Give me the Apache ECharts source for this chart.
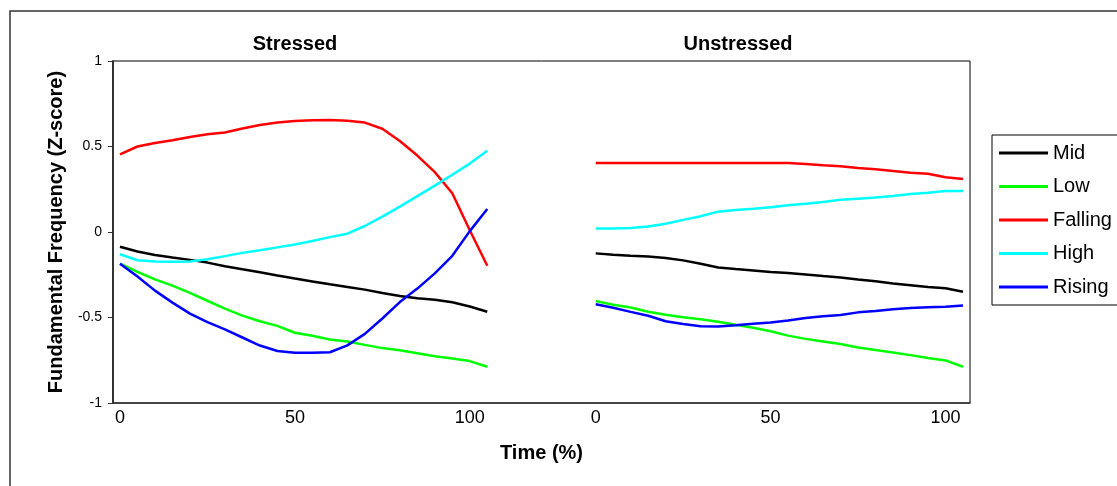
<!DOCTYPE html>
<html>
<head>
<meta charset="utf-8">
<title>Fundamental Frequency (Z-score)</title>
<script src="https://cdn.jsdelivr.net/npm/echarts@6/dist/echarts.min.js"></script>
<style>
  html, body { margin: 0; padding: 0; background: #ffffff; }
  #chart { width: 1117px; height: 486px; }
</style>
</head>
<body>
<div id="chart"></div>
<script>
// Normalised time points (%) shared by both conditions
const timePct = [0, 5, 10, 15, 20, 25, 30, 35, 40, 45, 50, 55, 60, 65, 70, 75, 80, 85, 90, 95, 100, 105];

// The unstressed panel sits to the right of the stressed one on the same x scale
const unstressedShift = 136;

const seriesNames = ['Mid', 'Low', 'Falling', 'High', 'Rising'];
const seriesColors = ['#000000', '#00ff00', '#ff0000', '#00ffff', '#0000ff'];

// Stressed condition
const stressedMid = [-0.086, -0.114, -0.134, -0.149, -0.163, -0.179, -0.2, -0.218, -0.235, -0.254, -0.272, -0.289, -0.306, -0.321, -0.337, -0.357, -0.374, -0.387, -0.396, -0.411, -0.436, -0.466];
const stressedLow = [-0.185, -0.233, -0.277, -0.314, -0.356, -0.402, -0.448, -0.489, -0.522, -0.549, -0.589, -0.607, -0.629, -0.64, -0.66, -0.679, -0.692, -0.709, -0.726, -0.74, -0.755, -0.788];
const stressedFalling = [0.454, 0.5, 0.52, 0.537, 0.555, 0.571, 0.582, 0.605, 0.626, 0.64, 0.649, 0.653, 0.655, 0.651, 0.64, 0.604, 0.532, 0.447, 0.35, 0.227, 0.01, -0.197];
const stressedHigh = [-0.13, -0.165, -0.172, -0.174, -0.172, -0.159, -0.141, -0.122, -0.107, -0.09, -0.073, -0.053, -0.03, -0.01, 0.035, 0.09, 0.148, 0.21, 0.271, 0.335, 0.4, 0.475];
const stressedRising = [-0.185, -0.26, -0.343, -0.413, -0.477, -0.527, -0.57, -0.617, -0.664, -0.696, -0.706, -0.706, -0.703, -0.663, -0.596, -0.506, -0.41, -0.331, -0.242, -0.139, 0.005, 0.135];

// Unstressed condition
const unstressedMid = [-0.125, -0.133, -0.139, -0.143, -0.152, -0.166, -0.186, -0.208, -0.217, -0.225, -0.234, -0.24, -0.249, -0.258, -0.266, -0.278, -0.288, -0.301, -0.311, -0.321, -0.329, -0.349];
const unstressedLow = [-0.404, -0.425, -0.442, -0.466, -0.484, -0.498, -0.51, -0.525, -0.543, -0.56, -0.58, -0.606, -0.625, -0.64, -0.655, -0.675, -0.69, -0.705, -0.72, -0.737, -0.751, -0.788];
const unstressedFalling = [0.404, 0.404, 0.404, 0.404, 0.404, 0.404, 0.404, 0.404, 0.404, 0.404, 0.404, 0.404, 0.398, 0.39, 0.384, 0.374, 0.367, 0.357, 0.346, 0.341, 0.32, 0.31];
const unstressedHigh = [0.021, 0.021, 0.023, 0.032, 0.048, 0.071, 0.092, 0.119, 0.128, 0.136, 0.145, 0.157, 0.165, 0.176, 0.188, 0.195, 0.202, 0.211, 0.222, 0.23, 0.24, 0.24];
const unstressedRising = [-0.423, -0.443, -0.467, -0.49, -0.522, -0.538, -0.551, -0.552, -0.546, -0.537, -0.529, -0.518, -0.503, -0.493, -0.486, -0.47, -0.462, -0.452, -0.445, -0.44, -0.437, -0.43];

// Tick positions (% time) labelled in each panel
const timeTicks = [0, 50, 100];
const yTicks = { min: -1, max: 1, step: 0.5 };

const stressedSets = [stressedMid, stressedLow, stressedFalling, stressedHigh, stressedRising];
const unstressedSets = [unstressedMid, unstressedLow, unstressedFalling, unstressedHigh, unstressedRising];

const FONT = '"Liberation Sans", Arial, Helvetica, sans-serif';

function toPairs(values, shift) {
  return values.map((v, i) => [timePct[i] + shift, v]);
}

const series = [];
seriesNames.forEach((name, k) => {
  [[stressedSets[k], 0], [unstressedSets[k], unstressedShift]].forEach(([vals, shift]) => {
    series.push({
      name: name,
      type: 'line',
      data: toPairs(vals, shift),
      showSymbol: false,
      symbol: 'none',
      smooth: false,
      lineStyle: { color: seriesColors[k], width: 2.5 },
      itemStyle: { color: seriesColors[k] },
      emphasis: { disabled: true },
      animation: false
    });
  });
});

const tickValues = timeTicks.concat(timeTicks.map(t => t + unstressedShift));

const chart = echarts.init(document.getElementById('chart'), null, { renderer: 'canvas' });

chart.setOption({
  backgroundColor: '#ffffff',
  animation: false,
  textStyle: { fontFamily: FONT },
  graphic: [
    {
      type: 'rect',
      z: -1,
      shape: { x: 10, y: 11, width: 1200, height: 600 },
      style: { fill: 'none', stroke: '#333333', lineWidth: 1.5 }
    },
    {
      type: 'text',
      x: 295, y: 44,
      style: { text: 'Stressed', font: 'bold 20px ' + FONT, fill: '#000', textAlign: 'center', textVerticalAlign: 'middle' }
    },
    {
      type: 'text',
      x: 738, y: 44,
      style: { text: 'Unstressed', font: 'bold 20px ' + FONT, fill: '#000', textAlign: 'center', textVerticalAlign: 'middle' }
    }
  ],
  legend: {
    orient: 'vertical',
    left: 992,
    top: 135,
    padding: [8, 30, 8, 7],
    borderColor: '#000000',
    borderWidth: 1,
    backgroundColor: '#ffffff',
    itemWidth: 49,
    itemHeight: 3,
    itemGap: 13.5,
    icon: 'rect',
    data: seriesNames,
    selectedMode: false,
    textStyle: { fontSize: 20, color: '#000', fontFamily: FONT, lineHeight: 20 }
  },
  grid: {
    left: 113,
    right: 147,
    top: 61,
    bottom: 83,
    containLabel: false,
    outerBoundsMode: 'none',
    show: true,
    borderColor: '#000000',
    borderWidth: 1,
    backgroundColor: '#ffffff'
  },
  xAxis: {
    type: 'value',
    min: -2,
    max: 243,
    name: 'Time (%)',
    nameLocation: 'middle',
    nameGap: 40,
    nameTextStyle: { fontSize: 20, fontWeight: 'bold', color: '#000', fontFamily: FONT },
    axisLine: { show: true, onZero: false, lineStyle: { color: '#333333', width: 1.5 } },
    axisTick: { show: false },
    splitLine: { show: false },
    axisLabel: {
      customValues: tickValues,
      fontSize: 18,
      color: '#000',
      margin: 6,
      formatter: v => String(v >= unstressedShift ? v - unstressedShift : v)
    }
  },
  yAxis: {
    type: 'value',
    min: yTicks.min,
    max: yTicks.max,
    interval: yTicks.step,
    name: 'Fundamental Frequency (Z-score)',
    nameLocation: 'middle',
    nameGap: 46,
    nameTextStyle: { fontSize: 20, fontWeight: 'bold', color: '#000', fontFamily: FONT },
    axisLine: { show: true, onZero: false, lineStyle: { color: '#333333', width: 2 } },
    axisTick: { show: true, inside: false, length: 5, lineStyle: { color: '#333333', width: 1 } },
    splitLine: { show: false },
    axisLabel: { fontSize: 14, color: '#000', margin: 11 }
  },
  series: series
});
</script>
</body>
</html>
